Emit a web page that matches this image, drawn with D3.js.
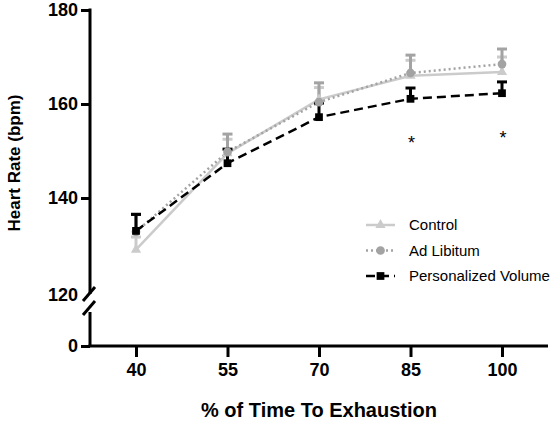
<!DOCTYPE html>
<html><head><meta charset="utf-8">
<script src="https://cdn.jsdelivr.net/npm/d3@7"></script>
<style>body{margin:0;background:#fff}svg{display:block}text{font-family:Arial,"Liberation Sans",sans-serif}</style>
</head><body>
<script>
const xCats = [40, 55, 70, 85, 100];
const control = [129, 149.5, 161, 166, 166.8];
const controlErr = [2.7, 3, 2.5, 3.3, 3.2];
const adLib = [132.8, 149.8, 160.4, 166.6, 168.5];
const adLibErr = [3.8, 3.8, 4.1, 3.8, 3.2];
const personal = [133, 147.4, 157.2, 161.1, 162.3];
const personalErr = [3.5, 3, 3, 2.3, 2.4];
const sigStars = [null, null, null, 152.8, 153.8];
const yTicks = [120, 140, 160, 180];
const seriesNames = ["Control", "Ad Libitum", "Personalized Volume"];

const W = 551, H = 422;
const svg = d3.select("body").append("svg").attr("width", W).attr("height", H);

const x = d3.scaleLinear().domain([40, 100]).range([136, 502]);
const y = d3.scaleLinear().domain([120, 180]).range([292, 10]);
const y0 = d3.scaleLinear().domain([0, 1]).range([346, 312]);
const axisX = 90, axisY = 346;

// X axis
const gx = svg.append("g").attr("transform", `translate(0,${axisY})`)
  .call(d3.axisBottom(x).tickValues(xCats).tickSize(11).tickPadding(6));
gx.select(".domain").remove();
gx.selectAll(".tick line").attr("stroke", "#000").attr("stroke-width", 3);
gx.selectAll(".tick text").attr("font-size", 18).attr("font-weight", "bold").attr("fill", "#000");
svg.append("line").attr("x1", axisX - 1.5).attr("x2", 548).attr("y1", axisY).attr("y2", axisY)
  .attr("stroke", "#000").attr("stroke-width", 3);

// Y axis upper
const gy = svg.append("g").attr("transform", `translate(${axisX},0)`)
  .call(d3.axisLeft(y).tickValues(yTicks).tickSize(9).tickPadding(3));
gy.select(".domain").remove();
gy.selectAll(".tick line").attr("stroke", "#000").attr("stroke-width", 3)
  .filter(d => d === 120).remove();
gy.selectAll(".tick text").attr("font-size", 18).attr("font-weight", "bold").attr("fill", "#000");
gy.selectAll(".tick").filter(d => d === 120).select("text").attr("dy", "0.45em");
svg.append("line").attr("x1", axisX).attr("x2", axisX).attr("y1", y(180) - 1.5).attr("y2", y(120) + 2)
  .attr("stroke", "#000").attr("stroke-width", 3);

// Y axis lower
const gy0 = svg.append("g").attr("transform", `translate(${axisX},0)`)
  .call(d3.axisLeft(y0).tickValues([0]).tickFormat(d3.format("d")).tickSize(9).tickPadding(3));
gy0.select(".domain").remove();
gy0.selectAll(".tick line").attr("stroke", "#000").attr("stroke-width", 3);
gy0.selectAll(".tick text").attr("font-size", 18).attr("font-weight", "bold").attr("fill", "#000");
svg.append("line").attr("x1", axisX).attr("x2", axisX).attr("y1", y0(1)).attr("y2", axisY)
  .attr("stroke", "#000").attr("stroke-width", 3);

// break marks
[y(120) + 2, y0(1) - 4].forEach(c => {
  svg.append("line").attr("x1", axisX - 7).attr("y1", c + 7).attr("x2", axisX + 5).attr("y2", c - 7)
    .attr("stroke", "#000").attr("stroke-width", 3);
});

// Titles
svg.append("text").attr("x", x(70)).attr("y", 417).attr("text-anchor", "middle")
  .attr("font-size", 20).attr("font-weight", "bold").text("% of Time To Exhaustion");
svg.append("text").attr("transform", `translate(20,${163}) rotate(-90)`).attr("text-anchor", "middle")
  .attr("font-size", 17).attr("font-weight", "bold").text("Heart Rate (bpm)");

const series = [
  {name: seriesNames[0], vals: control, err: controlErr, color: "#cbcbcb", dash: null, marker: "triangle"},
  {name: seriesNames[1], vals: adLib, err: adLibErr, color: "#a3a3a3", dash: "2,3", marker: "circle"},
  {name: seriesNames[2], vals: personal, err: personalErr, color: "#000", dash: "9,5", marker: "square"}
];

const symbolOf = m => m === "triangle" ? d3.symbolTriangle : m === "circle" ? d3.symbolCircle : d3.symbolSquare;
const sizeOf = m => m === "triangle" ? 45 : 60;

const lineLayer = svg.append("g");
const errLayer = svg.append("g");
const markLayer = svg.append("g");

series.forEach(s => {
  const pts = xCats.map((c, i) => [x(c), y(s.vals[i])]);
  lineLayer.append("path").datum(pts).attr("fill", "none").attr("stroke", s.color).attr("stroke-width", 2.5)
    .attr("stroke-dasharray", s.dash).attr("d", d3.line().x(p => p[0]).y(p => p[1]));
  xCats.forEach((c, i) => {
    const px = x(c), py = y(s.vals[i]), pt = y(s.vals[i] + s.err[i]);
    errLayer.append("line").attr("x1", px).attr("x2", px).attr("y1", py).attr("y2", pt)
      .attr("stroke", s.color).attr("stroke-width", 3);
    errLayer.append("line").attr("x1", px - 5).attr("x2", px + 5).attr("y1", pt).attr("y2", pt)
      .attr("stroke", s.color).attr("stroke-width", 3);
  });
  markLayer.append("g").selectAll("path").data(pts).join("path")
    .attr("transform", p => `translate(${p[0]},${p[1]})`)
    .attr("d", d3.symbol().type(symbolOf(s.marker)).size(sizeOf(s.marker))).attr("fill", s.color);
});

// significance stars
xCats.forEach((c, i) => {
  if (sigStars[i] == null) return;
  svg.append("text").attr("x", x(c) + 1).attr("y", y(sigStars[i])).attr("dy", "0.6em")
    .attr("text-anchor", "middle").attr("font-size", 18).text("*");
});

// legend
const leg = svg.append("g");
series.forEach((s, i) => {
  const ly = 225 + i * 25.5;
  leg.append("line").attr("x1", 366).attr("x2", 395).attr("y1", ly).attr("y2", ly)
    .attr("stroke", s.color).attr("stroke-width", 2.5).attr("stroke-dasharray", s.dash);
  leg.append("path").attr("transform", `translate(380.5,${ly})`)
    .attr("d", d3.symbol().type(symbolOf(s.marker)).size(sizeOf(s.marker))).attr("fill", s.color);
  leg.append("text").attr("x", 409).attr("y", ly).attr("dy", "0.35em").attr("font-size", 15)
    .attr("fill", "#000").text(s.name);
});
</script>
</body></html>
